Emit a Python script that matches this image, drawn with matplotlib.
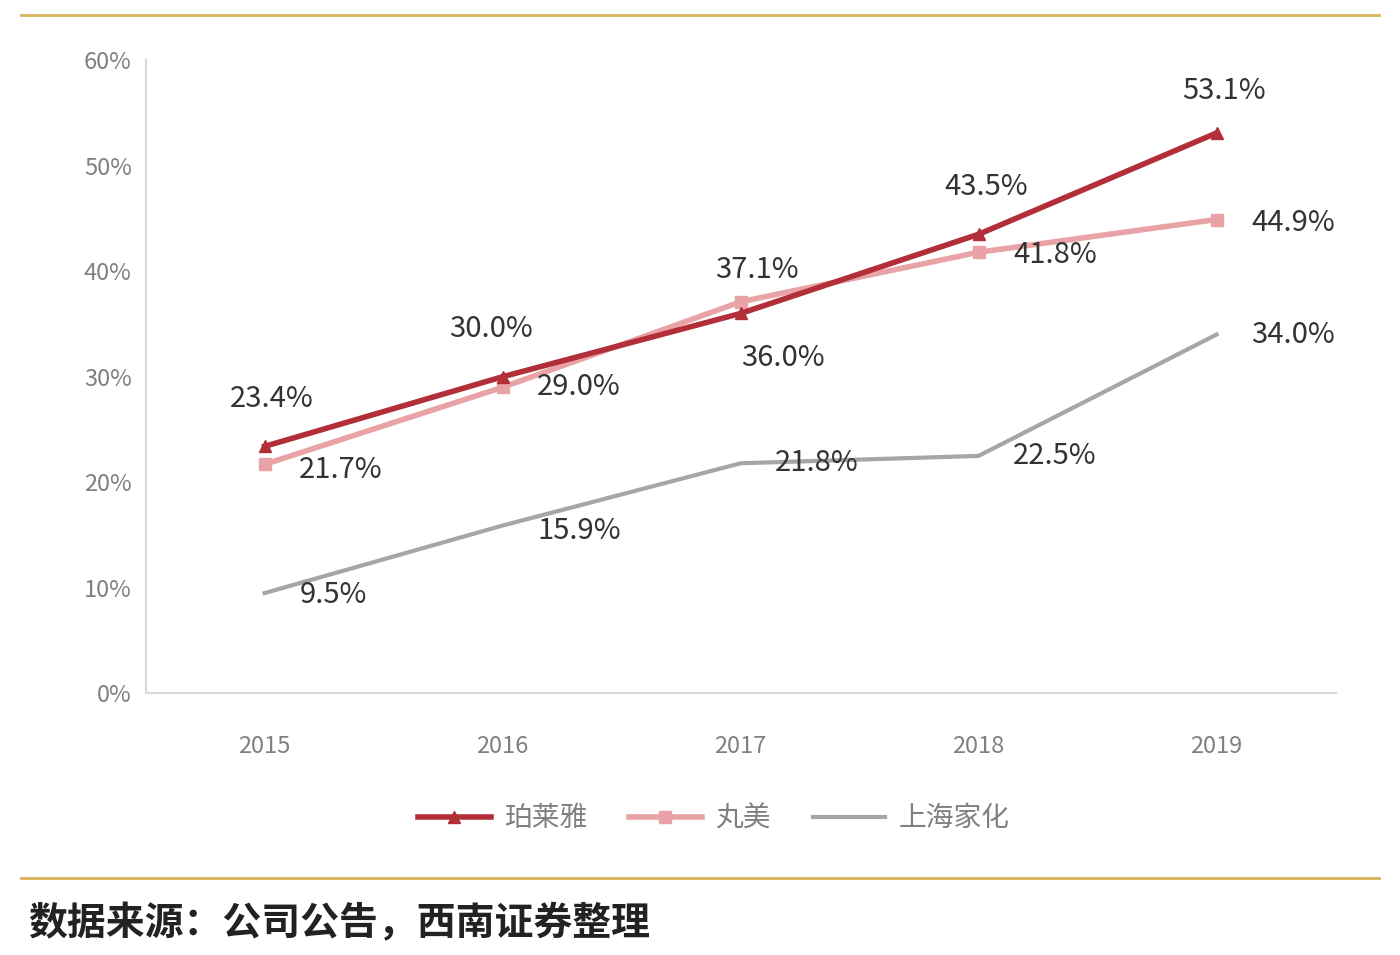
import matplotlib
matplotlib.use("Agg")
import matplotlib.pyplot as plt
from matplotlib.lines import Line2D

plt.rcParams['font.family'] = ['Noto Sans CJK SC', 'DejaVu Sans']

years = ["2015", "2016", "2017", "2018", "2019"]
s_names = ["珀莱雅", "丸美", "上海家化"]
ply = [23.4, 30.0, 36.0, 43.5, 53.1]
wm = [21.7, 29.0, 37.1, 41.8, 44.9]
shjh = [9.5, 15.9, 21.8, 22.5, 34.0]
yticks = [0, 10, 20, 30, 40, 50, 60]

fig = plt.figure(figsize=(14, 9.55), dpi=100)
ax = fig.add_axes([0.104, 0.274, 0.85, 0.663])
x = list(range(len(years)))
c1, c2, c3 = "#B22E38", "#E9A3A6", "#A6A6A6"
ax.plot(x, shjh, color=c3, lw=3, zorder=2)
ax.plot(x, wm, color=c2, lw=4, marker="s", ms=9, zorder=3)
ax.plot(x, ply, color=c1, lw=4, marker="^", ms=9, zorder=4)

ax.set_xlim(-0.5, 4.5)
ax.set_ylim(0, 60)
ax.set_xticks(x, years)
ax.set_yticks(yticks, [f"{v}%" for v in yticks])
ax.tick_params(labelsize=17, colors="#808080", length=0, pad=10)
ax.tick_params(axis="x", pad=30)
for s in ["top", "right"]:
    ax.spines[s].set_visible(False)
for s in ["left", "bottom"]:
    ax.spines[s].set_color("#D9D9D9")
    ax.spines[s].set_linewidth(1.5)

fs = 21
tc = "#333333"
off1 = [(0.03, 4.5), (-0.05, 4.5), (0.18, -4.2), (0.03, 4.5), (0.03, 4.0)]
for i, v in enumerate(ply):
    ax.text(x[i] + off1[i][0], v + off1[i][1], f"{v:.1f}%", fontsize=fs, color=tc, ha="center", va="center")
off2 = [(0.32, -0.5), (0.32, 0.0), (0.07, 3.0), (0.32, -0.3), (0.32, -0.3)]
for i, v in enumerate(wm):
    ax.text(x[i] + off2[i][0], v + off2[i][1], f"{v:.1f}%", fontsize=fs, color=tc, ha="center", va="center")
off3 = [(0.29, -0.2), (0.32, -0.5), (0.32, 0.0), (0.32, 0.0), (0.32, 0.0)]
for i, v in enumerate(shjh):
    ax.text(x[i] + off3[i][0], v + off3[i][1], f"{v:.1f}%", fontsize=fs, color=tc, ha="center", va="center")

handles = [Line2D([], [], color=c1, lw=4, marker="^", ms=9),
           Line2D([], [], color=c2, lw=4, marker="s", ms=9),
           Line2D([], [], color=c3, lw=3)]
fig.legend(handles, s_names, loc="center", bbox_to_anchor=(0.51, 0.143), ncol=3, frameon=False,
           fontsize=20, labelcolor="#808080", handlelength=2.6, handletextpad=0.5, columnspacing=1.5)

gold = "#D8B35A"
fig.add_artist(Line2D([0.015, 0.985], [0.984, 0.984], color=gold, lw=2))
fig.add_artist(Line2D([0.015, 0.985], [0.081, 0.081], color=gold, lw=2))
fig.text(0.02, 0.033, "数据来源：公司公告，西南证券整理", fontsize=28, style="italic",
         fontweight="bold", color="#222222", ha="left", va="center")
fig.savefig("out.png", dpi=100, facecolor="white")
